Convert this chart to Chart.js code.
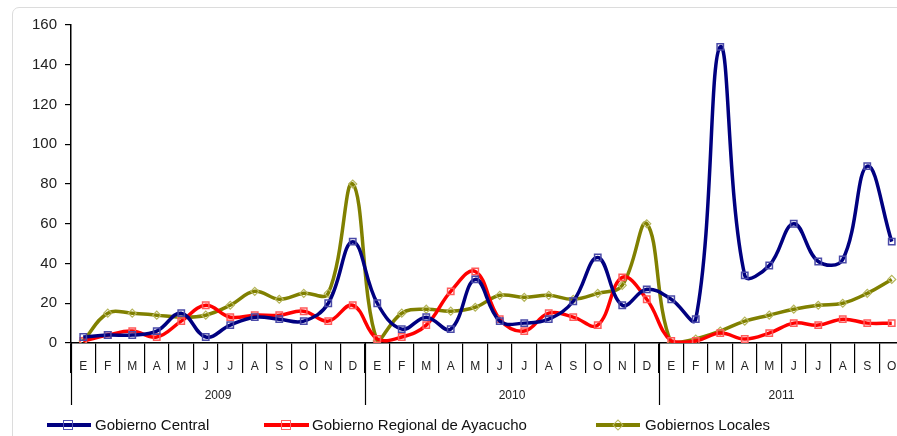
<!DOCTYPE html>
<html lang="es">
<head>
    <meta charset="UTF-8">
    <title>Gobierno Central / Regional / Locales</title>
    <style>
        body {
            margin: 0;
            width: 897px;
            height: 436px;
            overflow: hidden;
            background: #fff;
            font-family: "Liberation Sans", Arial, sans-serif;
            position: relative;
        }
        #frame {
            position: absolute;
            left: 12px;
            top: 7px;
            width: 1000px;
            height: 1000px;
            border: 1.5px solid #dcdcdc;
            border-radius: 7px;
        }
        #wrap {
            position: absolute;
            left: 0;
            top: 0;
            width: 910px;
            height: 436px;
        }
        .item {
            position: absolute;
            top: 416px;
            height: 18px;
            font-size: 15px;
            color: #111;
            line-height: 18px;
            white-space: nowrap;
        }
        .item .ln {
            position: absolute;
            top: 7px;
            height: 4px;
        }
        .item .mk {
            position: absolute;
            top: 4px;
            width: 8px;
            height: 8px;
            border: 1.5px solid;
            background: transparent;
        }
        .item .tx {
            position: absolute;
            top: 0;
        }
    </style>
    <script src="https://cdn.jsdelivr.net/npm/chart.js"></script>
</head>
<body>
    <div id="frame"></div>
    <div id="wrap"><canvas id="chart" width="910" height="436"></canvas></div>

    <div class="item" style="left:47px">
        <div class="ln" style="left:0;width:44px;background:#000080"></div>
        <div class="mk" style="left:16px;border-color:#5050b0"></div>
        <span class="tx" style="left:48px">Gobierno Central</span>
    </div>
    <div class="item" style="left:264px">
        <div class="ln" style="left:0;width:45px;background:#ff0000"></div>
        <div class="mk" style="left:17px;border-color:#ff6060"></div>
        <span class="tx" style="left:48px">Gobierno Regional de Ayacucho</span>
    </div>
    <div class="item" style="left:596px">
        <div class="ln" style="left:0;width:44px;background:#808000"></div>
        <div class="mk" style="left:18px;top:5px;width:6px;height:6px;transform:rotate(45deg);border-color:#b8b860"></div>
        <span class="tx" style="left:49px">Gobiernos Locales</span>
    </div>

    <script>
        const months = ['E','F','M','A','M','J','J','A','S','O','N','D',
                        'E','F','M','A','M','J','J','A','S','O','N','D',
                        'E','F','M','A','M','J','J','A','S','O'];
        const years = ['2009', '2010', '2011'];
        const yearStart = [0, 12, 24];   // first month index of each year
        const yearEnd = [12, 24, 34];

        const gobiernoCentral = [3, 4, 4, 6, 15, 3, 9, 13, 12, 11, 20, 51,
                                 20, 7, 13, 7, 32, 11, 10, 12, 21, 43, 19, 27,
                                 22, 12, 149, 34, 39, 60, 41, 42, 89, 51];
        const gobiernoRegional = [1, 4, 6, 3, 11, 19, 13, 14, 14, 16, 11, 19,
                                  2, 3, 9, 26, 36, 12, 6, 15, 13, 9, 33, 22,
                                  1, 1, 5, 2, 5, 10, 9, 12, 10, 10];
        const gobiernosLocales = [1, 15, 15, 14, 13, 14, 19, 26, 22, 25, 25, 80,
                                  1, 15, 17, 16, 18, 24, 23, 24, 22, 25, 29, 60,
                                  0, 2, 6, 11, 14, 17, 19, 20, 25, 32];

        // year separators + year labels under the month row
        const yearRows = {
            id: 'yearRows',
            afterDraw(chart) {
                const x = chart.scales.x;
                const ctx = chart.ctx;
                const top = chart.chartArea.bottom;
                ctx.save();
                ctx.strokeStyle = '#000';
                ctx.lineWidth = 1.2;
                yearStart.concat([34]).forEach(b => {
                    const px = Math.round(x.getPixelForValue(b - 0.5)) + 0.5;
                    ctx.beginPath();
                    ctx.moveTo(px, top);
                    ctx.lineTo(px, top + 62);
                    ctx.stroke();
                });
                ctx.fillStyle = '#222';
                ctx.font = '12px "Liberation Sans", Arial, sans-serif';
                ctx.textAlign = 'center';
                ctx.textBaseline = 'middle';
                years.forEach((y, i) => {
                    const mid = (yearStart[i] + yearEnd[i] - 1) / 2;
                    ctx.fillText(y, x.getPixelForValue(mid), top + 53);
                });
                ctx.restore();
            }
        };

        new Chart(document.getElementById('chart').getContext('2d'), {
            type: 'line',
            data: {
                labels: months,
                datasets: [{
                    label: 'Gobierno Central',
                    data: gobiernoCentral,
                    borderColor: '#000080',
                    borderWidth: 3.5,
                    pointStyle: 'rect',
                    pointRadius: 4.5,
                    pointBorderWidth: 1.5,
                    pointBorderColor: '#4a4aa8',
                    pointBackgroundColor: 'rgba(0,0,0,0)',
                    tension: 0.4
                }, {
                    label: 'Gobierno Regional de Ayacucho',
                    data: gobiernoRegional,
                    borderColor: '#ff0000',
                    borderWidth: 3.5,
                    pointStyle: 'rect',
                    pointRadius: 4.5,
                    pointBorderWidth: 1.5,
                    pointBorderColor: '#ff5a5a',
                    pointBackgroundColor: 'rgba(0,0,0,0)',
                    tension: 0.4
                }, {
                    label: 'Gobiernos Locales',
                    data: gobiernosLocales,
                    borderColor: '#808000',
                    borderWidth: 3.5,
                    pointStyle: 'rectRot',
                    pointRadius: 4,
                    pointBorderWidth: 1.2,
                    pointBorderColor: '#b5b55a',
                    pointBackgroundColor: 'rgba(0,0,0,0)',
                    tension: 0.4
                }]
            },
            options: {
                responsive: false,
                animation: false,
                layout: { padding: { left: 0, top: 25, right: 6, bottom: 0 } },
                plugins: {
                    legend: { display: false },
                    tooltip: { enabled: false }
                },
                scales: {
                    x: {
                        offset: true,
                        grid: {
                            offset: true,
                            drawOnChartArea: false,
                            tickLength: 30,
                            color: '#000',
                            lineWidth: 1.2
                        },
                        border: { color: '#000', width: 1.5 },
                        ticks: {
                            autoSkip: false,
                            maxRotation: 0,
                            padding: -14,
                            color: '#222',
                            font: { size: 12, family: '"Liberation Sans", Arial, sans-serif' }
                        },
                        afterFit(scale) { scale.height = 93; }
                    },
                    y: {
                        min: 0,
                        max: 160,
                        ticks: {
                            stepSize: 20,
                            padding: 8,
                            color: '#222',
                            font: { size: 15, family: '"Liberation Sans", Arial, sans-serif' }
                        },
                        grid: {
                            drawOnChartArea: false,
                            tickLength: 6,
                            color: '#000',
                            lineWidth: 1.2
                        },
                        border: { color: '#000', width: 1.5 },
                        afterFit(scale) { scale.width = 71; }
                    }
                }
            },
            plugins: [yearRows]
        });
    </script>
</body>
</html>
